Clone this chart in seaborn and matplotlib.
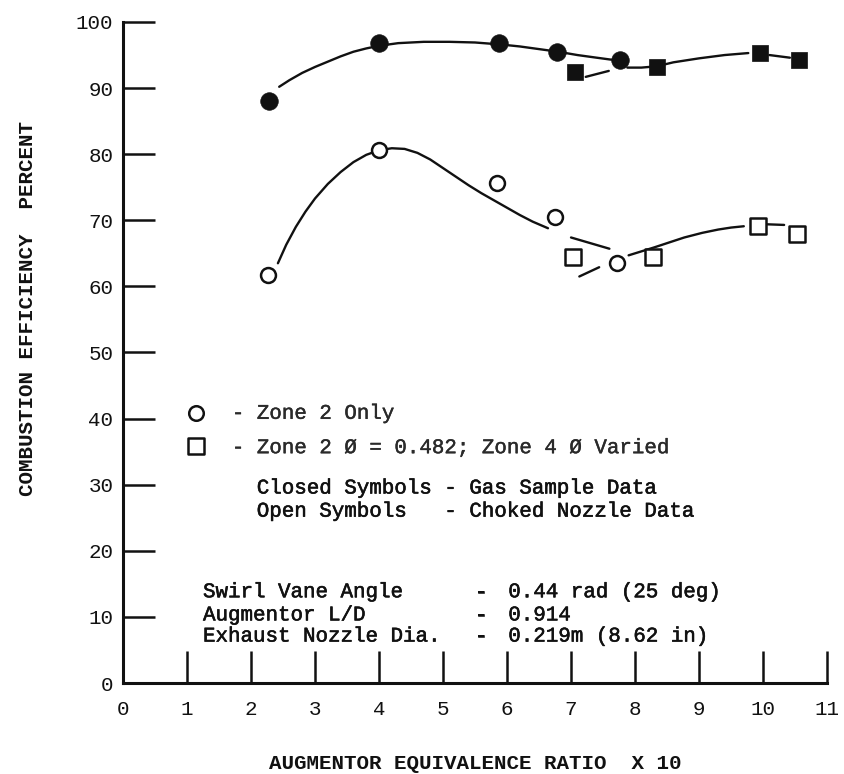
import matplotlib
matplotlib.use("Agg")
import matplotlib.pyplot as plt
import matplotlib.patheffects as pe
import seaborn as sns

# ---- data ----
closed_circle_x = [2.28, 4.0, 5.88, 6.78, 7.77]
closed_circle_y = [88.0, 96.8, 96.8, 95.4, 94.2]
closed_square_x = [7.06, 8.34, 9.95, 10.56]
closed_square_y = [92.4, 93.2, 95.3, 94.2]
open_circle_x = [2.27, 4.0, 5.84, 6.75, 7.72]
open_circle_y = [61.8, 80.6, 75.6, 70.5, 63.5]
open_square_x = [7.03, 8.28, 9.92, 10.53]
open_square_y = [64.4, 64.4, 69.2, 68.0]

# faired curves (vertices), drawn as separate segments
upper_circle_curve_x = [2.44, 2.6, 2.8, 3.0, 3.2, 3.4, 3.6, 3.8, 4.0, 4.3, 4.7, 5.1, 5.5, 5.9, 6.2, 6.5, 6.8, 7.1, 7.4, 7.63]
upper_circle_curve_y = [90.2, 91.2, 92.3, 93.2, 94.0, 94.8, 95.5, 96.0, 96.4, 96.8, 97.0, 97.0, 96.9, 96.6, 96.3, 95.9, 95.5, 95.0, 94.6, 94.3]
upper_square_seg1_x = [7.23, 7.59]
upper_square_seg1_y = [91.7, 92.6]
upper_square_seg2_x = [7.88, 8.1, 8.34, 8.6, 9.0, 9.4, 9.77]
upper_square_seg2_y = [93.1, 93.1, 93.3, 93.9, 94.5, 95.0, 95.3]
upper_square_seg3_x = [10.1, 10.42]
upper_square_seg3_y = [95.0, 94.6]
lower_circle_curve_x = [2.42, 2.55, 2.7, 2.85, 3.0, 3.2, 3.4, 3.6, 3.8, 4.0, 4.2, 4.4, 4.6, 4.8, 5.0, 5.2, 5.4, 5.6, 5.8, 6.0, 6.2, 6.4, 6.64]
lower_circle_curve_y = [63.5, 66.3, 69.0, 71.3, 73.3, 75.5, 77.3, 78.8, 79.9, 80.6, 80.9, 80.8, 80.2, 79.2, 77.9, 76.6, 75.3, 74.1, 73.0, 71.9, 70.8, 69.8, 68.8]
lower_circle_seg2_x = [7.0, 7.6]
lower_circle_seg2_y = [67.4, 65.7]
lower_square_seg1_x = [7.13, 7.44]
lower_square_seg1_y = [61.5, 62.9]
lower_square_seg2_x = [7.9, 8.1, 8.3, 8.55, 8.77, 9.05, 9.3, 9.5, 9.7]
lower_square_seg2_y = [64.7, 65.3, 65.9, 66.7, 67.4, 68.1, 68.6, 68.9, 69.1]
lower_square_seg3_x = [10.05, 10.33]
lower_square_seg3_y = [69.4, 69.3]

x_ticks = list(range(0, 12))
y_ticks = list(range(0, 101, 10))

legend_lines = ["- Zone 2 Only", "- Zone 2 \u00d8 = 0.482; Zone 4 \u00d8 Varied"]
note_lines = ["Closed Symbols - Gas Sample Data", "Open Symbols   - Choked Nozzle Data"]
param_names = ["Swirl Vane Angle", "Augmentor L/D", "Exhaust Nozzle Dia."]
param_values = ["0.44 rad (25 deg)", "0.914", "0.219m (8.62 in)"]

# ---- style ----
sns.set_style("ticks")
plt.rcParams['font.family'] = ['Liberation Mono', 'DejaVu Sans Mono']
INK = "#111111"

fig = plt.figure(figsize=(8.45, 7.74), dpi=100)
ax = fig.add_axes([0.1456, 0.11757, 0.8331, 0.85401])

lw = 1.7
segments = [
    (upper_circle_curve_x, upper_circle_curve_y),
    (upper_square_seg1_x, upper_square_seg1_y),
    (upper_square_seg2_x, upper_square_seg2_y),
    (upper_square_seg3_x, upper_square_seg3_y),
    (lower_circle_curve_x, lower_circle_curve_y),
    (lower_circle_seg2_x, lower_circle_seg2_y),
    (lower_square_seg1_x, lower_square_seg1_y),
    (lower_square_seg2_x, lower_square_seg2_y),
    (lower_square_seg3_x, lower_square_seg3_y),
]
for sx, sy in segments:
    sns.lineplot(x=sx, y=sy, sort=False, estimator=None, color=INK, lw=lw, ax=ax)

sns.scatterplot(x=closed_circle_x, y=closed_circle_y, marker='o', s=160,
                color=INK, edgecolor=INK, linewidth=0.5, ax=ax, zorder=4)
sns.scatterplot(x=closed_square_x, y=closed_square_y, marker='s', s=145,
                color=INK, edgecolor=INK, linewidth=0.5, ax=ax, zorder=4)
sns.scatterplot(x=open_circle_x, y=open_circle_y, marker='o', s=115,
                color='white', edgecolor=INK, linewidth=1.8, ax=ax, zorder=4)
sns.scatterplot(x=open_square_x, y=open_square_y, marker='s', s=125,
                color='white', edgecolor=INK, linewidth=1.8, ax=ax, zorder=4)

ax.set_xlim(0, 11)
ax.set_ylim(0, 100)
ax.set_xticks(x_ticks)
ax.set_yticks(y_ticks)
ax.set_xticklabels([str(v) for v in x_ticks])
ax.set_yticklabels([str(v) for v in y_ticks])
sns.despine(ax=ax)
for sp in ['left', 'bottom']:
    ax.spines[sp].set_linewidth(2.2)
    ax.spines[sp].set_color(INK)
ax.tick_params(axis='both', direction='in', length=23, width=1.8, colors=INK,
               labelsize=15)
ax.tick_params(axis='x', pad=12)
ax.tick_params(axis='y', pad=7)

ax.set_xlabel("AUGMENTOR EQUIVALENCE RATIO  X 10", fontsize=15, fontweight='bold', color=INK)
ax.set_ylabel("COMBUSTION EFFICIENCY  PERCENT", fontsize=15, fontweight='bold', color=INK)
ax.xaxis.set_label_coords(0.501, -0.107)
ax.yaxis.set_label_coords(-0.122, 0.567)

# legend symbols + text
ax.scatter([1.14], [40.8], marker='o', s=110, facecolor='white', edgecolor=INK, linewidth=1.8, zorder=4)
ax.scatter([1.14], [35.9], marker='s', s=125, facecolor='white', edgecolor=INK, linewidth=1.8, zorder=4)
fs = 15
thick = [pe.withStroke(linewidth=0.4, foreground=INK)]
thin = [pe.withStroke(linewidth=0.3, foreground="#2a2a2a")]
ax.text(1.70, 40.8, legend_lines[0], fontsize=fs, ha='left', va='center', color="#2a2a2a", path_effects=thin)
ax.text(1.70, 35.6, legend_lines[1], fontsize=fs, ha='left', va='center', color="#2a2a2a", path_effects=thin)
ax.text(2.09, 29.5, note_lines[0], fontsize=fs, ha='left', va='center', color=INK, path_effects=thick)
ax.text(2.09, 26.0, note_lines[1], fontsize=fs, ha='left', va='center', color=INK, path_effects=thick)

param_y = [13.8, 10.3, 7.1]
for name, val, yy in zip(param_names, param_values, param_y):
    ax.text(1.25, yy, name, fontsize=fs, ha='left', va='center', color=INK, path_effects=thick)
    ax.text(5.50, yy, "-", fontsize=fs, ha='left', va='center', color=INK, path_effects=thick)
    ax.text(6.02, yy, val, fontsize=fs, ha='left', va='center', color=INK, path_effects=thick)

fig.savefig("out.png", dpi=100, facecolor='white')
